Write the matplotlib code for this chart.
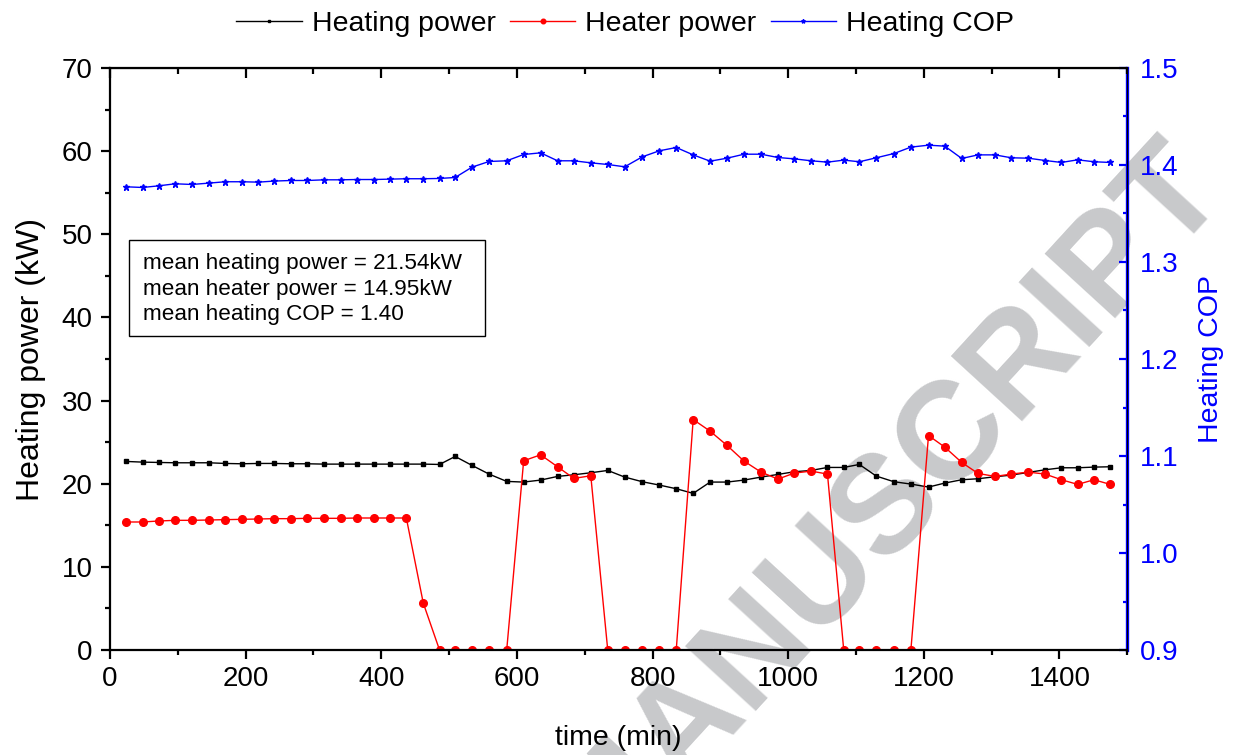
import matplotlib
matplotlib.use("Agg")
import matplotlib.pyplot as plt
from matplotlib.patches import Rectangle
from matplotlib.ticker import MultipleLocator

plt.rcParams["font.family"] = ["Liberation Sans", "DejaVu Sans"]

time_min = [24, 48, 72, 96, 121, 146, 170, 194, 219, 242,
            267, 291, 316, 340, 364, 389, 413, 437, 462, 486,
            509, 534, 559, 585, 610, 635, 660, 684, 709, 734,
            759, 785, 810, 835, 860, 885, 910, 935, 960, 985,
            1009, 1034, 1058, 1082, 1105, 1130, 1156, 1181, 1207, 1231,
            1256, 1280, 1305, 1329, 1354, 1379, 1403, 1427, 1451, 1475]

heating_power = [22.68, 22.60, 22.56, 22.52, 22.52, 22.52, 22.44, 22.40, 22.44, 22.44,
                 22.40, 22.40, 22.36, 22.36, 22.36, 22.36, 22.36, 22.36, 22.36, 22.32,
                 23.28, 22.20, 21.16, 20.28, 20.20, 20.44, 20.88, 21.08, 21.32, 21.60,
                 20.80, 20.24, 19.84, 19.40, 18.84, 20.20, 20.20, 20.44, 20.80, 21.12,
                 21.44, 21.60, 21.96, 21.96, 22.32, 20.92, 20.24, 19.96, 19.60, 20.08,
                 20.48, 20.60, 20.84, 21.04, 21.36, 21.68, 21.92, 21.92, 22.00, 22.04]

heater_power = [15.40, 15.40, 15.52, 15.60, 15.60, 15.64, 15.68, 15.72, 15.76, 15.80,
                15.80, 15.84, 15.84, 15.84, 15.88, 15.88, 15.88, 15.88, 5.64, 0.0,
                0.0, 0.0, 0.0, 0.0, 22.76, 23.48, 22.04, 20.64, 20.96, 0.0,
                0.0, 0.0, 0.0, 0.0, 27.72, 26.32, 24.60, 22.72, 21.40, 20.56,
                21.28, 21.52, 21.16, 0.0, 0.0, 0.0, 0.0, 0.0, 25.80, 24.40,
                22.56, 21.24, 20.88, 21.16, 21.40, 21.16, 20.48, 19.92, 20.48, 19.92]

heating_cop = [1.3775, 1.3768, 1.3785, 1.3806, 1.3799, 1.3813, 1.3827, 1.3827, 1.3823, 1.3834,
               1.3840, 1.3840, 1.3847, 1.3847, 1.3850, 1.3850, 1.3854, 1.3858, 1.3858, 1.3861,
               1.3871, 1.3978, 1.4036, 1.4043, 1.4108, 1.4125, 1.4043, 1.4043, 1.4022, 1.4005,
               1.3981, 1.4084, 1.4146, 1.4180, 1.4104, 1.4039, 1.4070, 1.4111, 1.4111, 1.4077,
               1.4063, 1.4043, 1.4029, 1.4050, 1.4033, 1.4074, 1.4118, 1.4184, 1.4204, 1.4194,
               1.4067, 1.4104, 1.4104, 1.4074, 1.4070, 1.4046, 1.4026, 1.4053, 1.4033, 1.4026]

summary = ["mean heating power = 21.54kW",
           "mean heater power = 14.95kW",
           "mean heating COP = 1.40"]

fig = plt.figure(figsize=(12.33, 7.55), dpi=100)
ax = fig.add_axes([0.0892, 0.139, 0.825, 0.771])
ax2 = ax.twinx()
ax.set_zorder(ax2.get_zorder() + 1)
ax.patch.set_visible(False)
ax2.patch.set_visible(False)

# watermark, sits behind everything
fig.text(0.976, 0.775, "ACCEPTED MANUSCRIPT", fontsize=100, fontweight="bold",
         color="#c8c9cb", rotation=47.5, rotation_mode="anchor",
         ha="right", va="center", zorder=-1)

l1, = ax.plot(time_min, heating_power, color="black", lw=1.0, marker="s", ms=3.5,
              label="Heating power")
l2, = ax.plot(time_min, heater_power, color="red", lw=1.0, marker="o", ms=5.5,
              label="Heater power")
l3, = ax2.plot(time_min, heating_cop, color="blue", lw=1.0, marker="*", ms=5,
               label="Heating COP")

ax.set_xlim(0, 1500)
ax.set_ylim(0, 70)
ax2.set_ylim(0.9, 1.5)

ax.xaxis.set_major_locator(MultipleLocator(200))
ax.xaxis.set_minor_locator(MultipleLocator(100))
ax.yaxis.set_major_locator(MultipleLocator(10))
ax.yaxis.set_minor_locator(MultipleLocator(5))
ax2.yaxis.set_major_locator(MultipleLocator(0.1))
ax2.yaxis.set_minor_locator(MultipleLocator(0.05))

ax.tick_params(axis="x", which="both", direction="out", labelsize=20, width=1.6,
               top=False, pad=5)
ax.tick_params(axis="y", which="both", direction="out", labelsize=20, width=1.6,
               pad=6)
ax.tick_params(which="major", length=6.5)
ax.tick_params(which="minor", length=3.5)
ax2.tick_params(axis="y", which="both", direction="in", colors="blue", labelsize=20,
                width=1.6, pad=9)
ax2.tick_params(which="major", length=6)
ax2.tick_params(which="minor", length=3)

# mirrored top ticks pointing inward
top = ax.secondary_xaxis("top")
top.xaxis.set_major_locator(MultipleLocator(200))
top.xaxis.set_minor_locator(MultipleLocator(100))
top.tick_params(which="both", direction="in", labeltop=False, width=1.6)
top.tick_params(which="major", length=7)
top.tick_params(which="minor", length=4)

for s in ["left", "bottom"]:
    ax.spines[s].set_linewidth(1.6)
top.spines["top"].set_linewidth(1.6)
ax2.spines["right"].set_color("blue")
ax2.spines["right"].set_linewidth(2.4)
for s in ["left", "bottom", "top"]:
    ax2.spines[s].set_visible(False)

ax.set_xlabel("time (min)", fontsize=20.5, labelpad=24)
ax.set_ylabel("Heating power (kW)", fontsize=23, labelpad=11)
ax2.set_ylabel("Heating COP", fontsize=20.5, color="blue", labelpad=14)

# summary box
ax.add_patch(Rectangle((0.0187, 0.5395), 0.350, 0.165, transform=ax.transAxes,
                       fc="white", ec="black", lw=1.0, zorder=5))
ax.text(0.0324, 0.620, "\n".join(summary), transform=ax.transAxes, fontsize=16.2,
        va="center", ha="left", linespacing=1.3, zorder=6)

fig.legend(handles=[l1, l2, l3], loc="upper center", bbox_to_anchor=(0.507, 1.02),
           ncol=3, frameon=False, fontsize=20.5, handlelength=2.3, handletextpad=0.35,
           columnspacing=0.5, markerscale=0.6)

fig.savefig("out.png", dpi=100)
